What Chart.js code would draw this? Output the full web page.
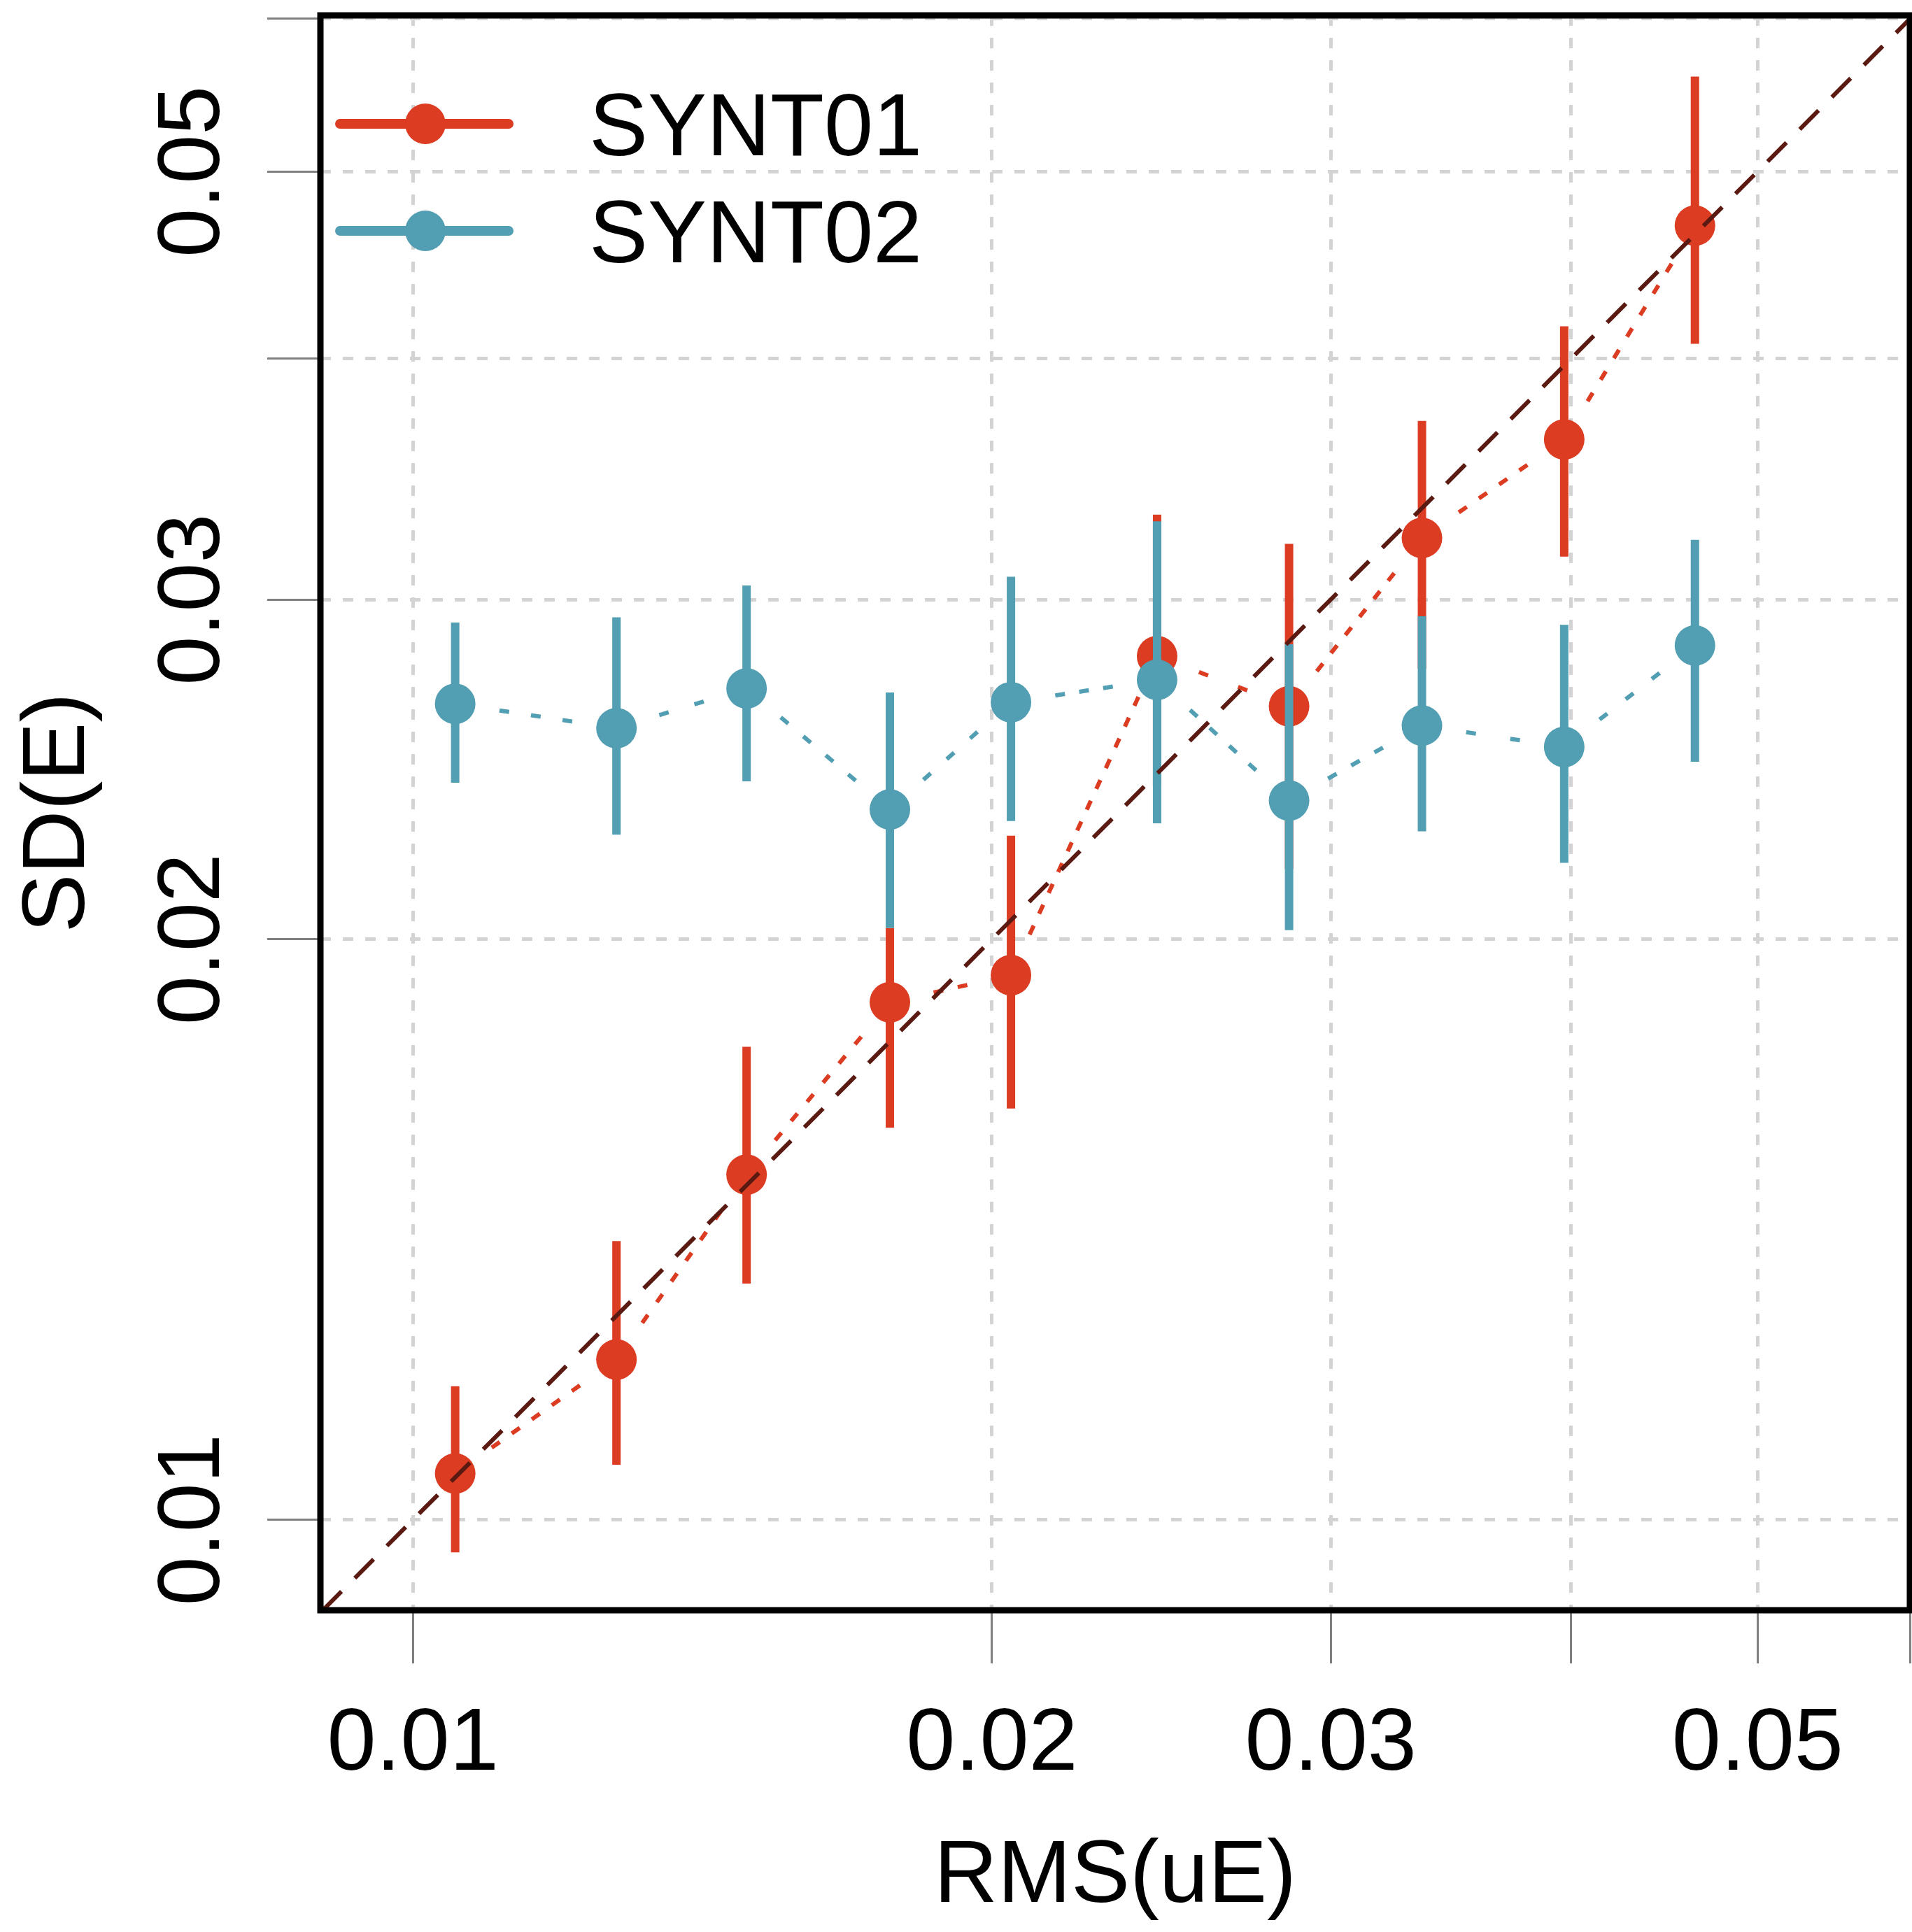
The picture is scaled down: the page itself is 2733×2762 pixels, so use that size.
<!DOCTYPE html>
<html>
<head>
<meta charset="utf-8">
<title>SD(E) vs RMS(uE)</title>
<script src="https://cdn.jsdelivr.net/npm/chart.js@4.4.1/dist/chart.umd.min.js"></script>
<style>
  html, body { margin: 0; padding: 0; background: #fff; }
  canvas { display: block; }
</style>
</head>
<body>
<canvas id="myChart" width="2733" height="2762"></canvas>
<script>
'use strict';

const seriesNames = ['SYNT01', 'SYNT02'];

// bin centres, shared by both series
const rmsUE = [0.01052, 0.01276, 0.01491, 0.01770, 0.02046, 0.02437, 0.02854, 0.03346, 0.03967, 0.04639];

const sd01 = [0.01057, 0.01211, 0.01510, 0.01855, 0.01916, 0.02804, 0.02641, 0.03229, 0.03632, 0.04688];
const sd01Lo = [0.00962, 0.01068, 0.01326, 0.01597, 0.01634, 0.02400, 0.02175, 0.02762, 0.03158, 0.04071];
const sd01Hi = [0.01173, 0.01395, 0.01759, 0.02027, 0.02263, 0.03320, 0.03206, 0.03713, 0.04157, 0.05601];

const sd02 = [0.02649, 0.02573, 0.02698, 0.02335, 0.02654, 0.02726, 0.02360, 0.02581, 0.02516, 0.02840];
const sd02Lo = [0.02411, 0.02266, 0.02415, 0.02027, 0.02303, 0.02297, 0.02022, 0.02275, 0.02191, 0.02472];
const sd02Hi = [0.02919, 0.02937, 0.03051, 0.02685, 0.03083, 0.03294, 0.02844, 0.02941, 0.02911, 0.03222];

// identity line y = x
const refLine = [0.008, 0.07];

const xTickVals = [0.01, 0.02, 0.03, 0.04, 0.05, 0.06];
const xTickLabels = ['0.01', '0.02', '0.03', '', '0.05', ''];
const yTickVals = [0.01, 0.02, 0.03, 0.04, 0.05, 0.06];
const yTickLabels = ['0.01', '0.02', '0.03', '', '0.05', ''];

const xLimits = [0.008953, 0.0600];
const yLimits = [0.008978, 0.06025];

const RED = '#DB3C22';
const BLUE = '#529EB2';
const DIAG = '#5A1A12';
const FONT = "'Liberation Sans', Arial, Helvetica, sans-serif";
const FONT_SIZE = 126;

Chart.defaults.font.family = FONT;
Chart.defaults.color = '#000';

// R type="b" look: dotted segments that stop short of the points
const LINE_GAP = 64;
const DOT_ON = 14;
const DOT_OFF = 18;
function gapDash(ctx) {
  const p0 = ctx.p0, p1 = ctx.p1;
  const len = Math.hypot(p1.x - p0.x, p1.y - p0.y);
  const run = len - 2 * LINE_GAP;
  if (run <= DOT_ON) return [0, len + 50];
  const n = Math.max(1, Math.floor((run + DOT_OFF) / (DOT_ON + DOT_OFF)));
  const off = n > 1 ? (run - n * DOT_ON) / (n - 1) : 0;
  const start = LINE_GAP + (run - (n * DOT_ON + (n - 1) * off)) / 2;
  const pattern = [0, start];
  for (let i = 0; i < n; i++) {
    pattern.push(DOT_ON, i < n - 1 ? off : len);
  }
  return pattern;
}

const errorBars = {
  1: { lo: sd02Lo, hi: sd02Hi, color: BLUE },
  2: { lo: sd01Lo, hi: sd01Hi, color: RED }
};

const errorBarPlugin = {
  id: 'errorBars',
  beforeDatasetDraw(chart, args) {
    const bars = errorBars[args.index];
    if (!bars) return;
    const {ctx, scales} = chart;
    ctx.save();
    ctx.strokeStyle = bars.color;
    ctx.lineWidth = 12;
    ctx.lineCap = 'butt';
    for (let i = 0; i < rmsUE.length; i++) {
      const x = scales.x.getPixelForValue(rmsUE[i]);
      ctx.beginPath();
      ctx.moveTo(x, scales.y.getPixelForValue(bars.lo[i]));
      ctx.lineTo(x, scales.y.getPixelForValue(bars.hi[i]));
      ctx.stroke();
    }
    ctx.restore();
  }
};

const decorPlugin = {
  id: 'decor',
  afterDraw(chart) {
    const {ctx, chartArea, scales} = chart;
    ctx.save();

    // legend
    const colors = [RED, BLUE];
    seriesNames.forEach((name, i) => {
      const y = chartArea.top + 155 + i * 153;
      const x0 = chartArea.left + 28;
      const x1 = chartArea.left + 269;
      ctx.strokeStyle = colors[i];
      ctx.lineWidth = 14;
      ctx.lineCap = 'round';
      ctx.beginPath();
      ctx.moveTo(x0, y);
      ctx.lineTo(x1, y);
      ctx.stroke();
      ctx.fillStyle = colors[i];
      ctx.beginPath();
      ctx.arc(chartArea.left + 150, y, 29, 0, Math.PI * 2);
      ctx.fill();
      ctx.fillStyle = '#000';
      ctx.font = FONT_SIZE + 'px ' + FONT;
      ctx.textAlign = 'left';
      ctx.textBaseline = 'alphabetic';
      ctx.fillText(name, chartArea.left + 384, y + 45);
    });

    // y tick labels, rotated like R's default las=0
    ctx.fillStyle = '#000';
    ctx.font = FONT_SIZE + 'px ' + FONT;
    ctx.textAlign = 'center';
    ctx.textBaseline = 'alphabetic';
    yTickVals.forEach((v, i) => {
      if (!yTickLabels[i]) return;
      const y = scales.y.getPixelForValue(v);
      ctx.save();
      ctx.translate(313, y);
      ctx.rotate(-Math.PI / 2);
      ctx.fillText(yTickLabels[i], 0, 0);
      ctx.restore();
    });

    // box around the plot
    ctx.strokeStyle = '#000';
    ctx.lineWidth = 9;
    ctx.lineCap = 'butt';
    ctx.strokeRect(chartArea.left, chartArea.top,
      chartArea.right - chartArea.left, chartArea.bottom - chartArea.top);
    ctx.restore();
  }
};

const gridOpts = {
  color: '#D3D3D3',
  lineWidth: 5,
  tickColor: '#808080',
  tickWidth: 3,
  tickLength: 76,
  tickBorderDash: []
};

function noPadding(scale) {
  scale.paddingLeft = 0;
  scale.paddingRight = 0;
  scale.paddingTop = 0;
  scale.paddingBottom = 0;
}

const ctx = document.getElementById('myChart').getContext('2d');
const chart = new Chart(ctx, {
  type: 'scatter',
  data: {
    datasets: [
      {
        label: 'y = x',
        data: refLine.map(v => ({x: v, y: v})),
        showLine: true,
        borderColor: DIAG,
        borderWidth: 6,
        borderDash: [38, 27],
        pointRadius: 0,
        order: 0
      },
      {
        label: seriesNames[1],
        data: rmsUE.map((x, i) => ({x: x, y: sd02[i]})),
        showLine: true,
        borderColor: BLUE,
        borderWidth: 6,
        pointRadius: 29,
        pointBackgroundColor: BLUE,
        pointBorderWidth: 0,
        segment: { borderDash: gapDash },
        order: 1
      },
      {
        label: seriesNames[0],
        data: rmsUE.map((x, i) => ({x: x, y: sd01[i]})),
        showLine: true,
        borderColor: RED,
        borderWidth: 6,
        pointRadius: 29,
        pointBackgroundColor: RED,
        pointBorderWidth: 0,
        segment: { borderDash: gapDash },
        order: 2
      }
    ]
  },
  options: {
    responsive: false,
    animation: false,
    events: [],
    layout: {
      autoPadding: false,
      padding: { top: 22, right: 3, left: 0, bottom: 0 }
    },
    plugins: {
      legend: { display: false },
      tooltip: { enabled: false }
    },
    scales: {
      x: {
        type: 'logarithmic',
        min: xLimits[0],
        max: xLimits[1],
        bounds: 'data',
        afterBuildTicks: scale => { scale.ticks = xTickVals.map(v => ({value: v})); },
        afterFit: scale => { scale.height = 460; noPadding(scale); },
        grid: gridOpts,
        border: { display: false, dash: [15, 17] },
        ticks: {
          autoSkip: false,
          maxRotation: 0,
          minRotation: 0,
          padding: 42,
          color: '#000',
          font: { size: FONT_SIZE },
          callback: (v, i) => xTickLabels[i]
        },
        title: {
          display: true,
          text: 'RMS(uE)',
          color: '#000',
          font: { size: FONT_SIZE },
          padding: { top: 0, bottom: 2 }
        }
      },
      y: {
        type: 'logarithmic',
        min: yLimits[0],
        max: yLimits[1],
        bounds: 'data',
        afterBuildTicks: scale => { scale.ticks = yTickVals.map(v => ({value: v})); },
        afterFit: scale => { scale.width = 458; noPadding(scale); },
        grid: gridOpts,
        border: { display: false, dash: [15, 17] },
        ticks: { display: false },
        title: {
          display: true,
          text: 'SD(E)',
          color: '#000',
          font: { size: FONT_SIZE },
          padding: { top: 10, bottom: 0 }
        }
      }
    }
  },
  plugins: [errorBarPlugin, decorPlugin]
});
</script>
</body>
</html>
